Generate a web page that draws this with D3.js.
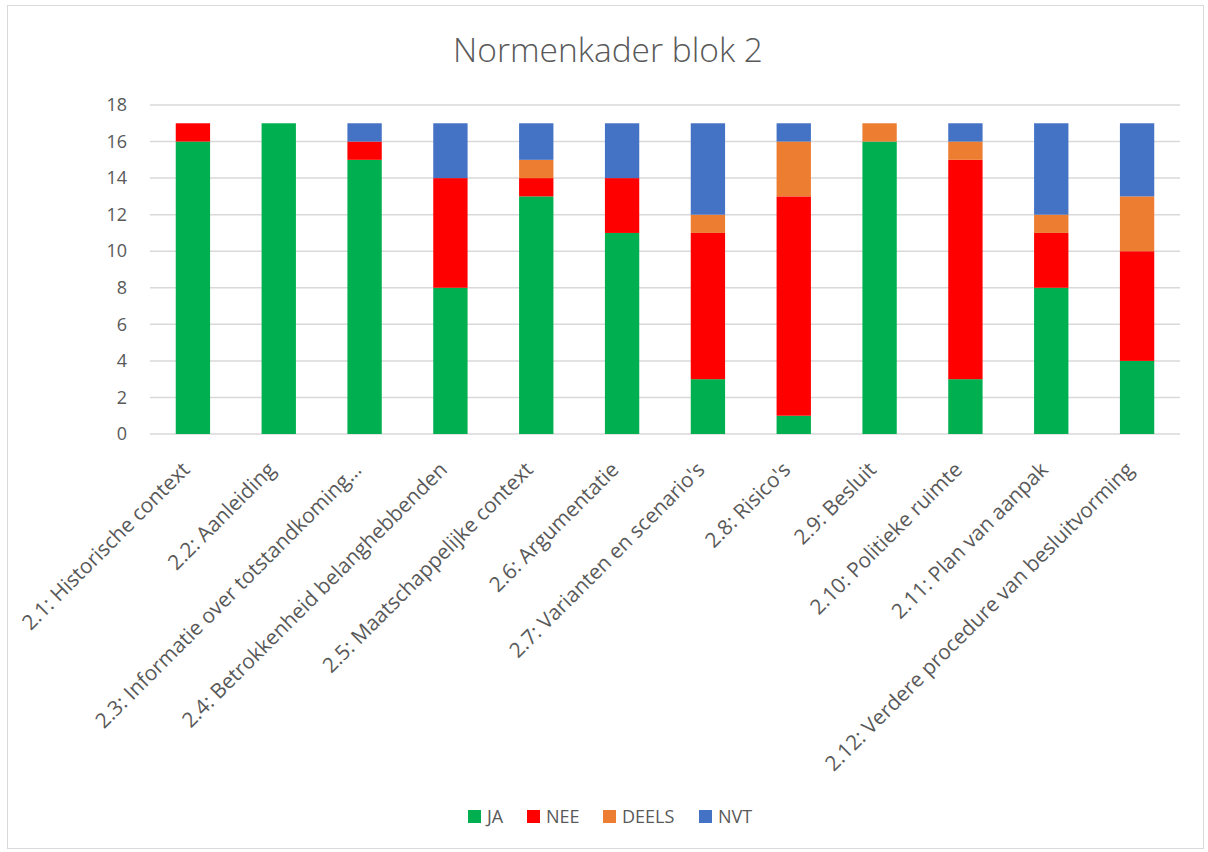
<html>
<head>
<script src="https://cdnjs.cloudflare.com/ajax/libs/d3/7.8.5/d3.min.js"></script>
<style>
  body { margin: 0; background: #fff; }
  text { font-family: "Open Sans", sans-serif; fill: #595959; }
  .yaxis .domain, .xaxis .domain, .xaxis .tick line, .yaxis .tick line { display: none; }
  .grid line { stroke: #d9d9d9; stroke-width: 1.5; }
</style>
</head>
<body>
<div id="chart"></div>
<script>
let categories = ["2.1: Historische context", "2.2: Aanleiding", "2.3: Informatie over totstandkoming\u2026",
  "2.4: Betrokkenheid belanghebbenden", "2.5: Maatschappelijke context", "2.6: Argumentatie",
  "2.7: Varianten en scenario's", "2.8: Risico's", "2.9: Besluit", "2.10: Politieke ruimte",
  "2.11: Plan van aanpak", "2.12: Verdere procedure van besluitvorming"];
let seriesNames = ["JA", "NEE", "DEELS", "NVT"];
let colours = ["#00b050", "#ff0000", "#ed7d31", "#4472c4"];
let ja    = [16, 17, 15, 8, 13, 11, 3, 1, 16, 3, 8, 4];
let nee   = [1, 0, 1, 6, 1, 3, 8, 12, 0, 12, 3, 6];
let deels = [0, 0, 0, 0, 1, 0, 1, 3, 1, 1, 1, 3];
let nvt   = [0, 0, 1, 3, 2, 3, 5, 1, 0, 1, 5, 4];
let yTicks = [0, 2, 4, 6, 8, 10, 12, 14, 16, 18];

let W = 1208, H = 852;
let margin = {top: 105, left: 150, right: 28, bottom: 418};
let width = W - margin.left - margin.right;
let height = H - margin.top - margin.bottom;

let svg = d3.select('#chart').append('svg').attr('width', W).attr('height', H);

svg.append('rect')
  .attr('x', 7.5).attr('y', 5.5).attr('width', W - 12).attr('height', H - 9)
  .attr('fill', '#fff').attr('stroke', '#d9d9d9').attr('stroke-width', 1);

svg.append('text')
  .attr('x', 608).attr('y', 62)
  .attr('text-anchor', 'middle')
  .style('font-size', '33.5px').style('font-weight', 300)
  .text('Normenkader blok 2');

let g = svg.append('g').attr('transform', 'translate(' + margin.left + ',' + margin.top + ')');

let x = d3.scaleBand().domain(categories).range([0, width]).paddingInner(0.6).paddingOuter(0.3);
let y = d3.scaleLinear().domain([0, 18]).range([height, 0]);

g.append('g').attr('class', 'grid')
  .selectAll('line').data(yTicks).enter().append('line')
  .attr('x1', 0).attr('x2', width)
  .attr('y1', d => y(d)).attr('y2', d => y(d));

let yAxis = g.append('g').attr('class', 'yaxis')
  .call(d3.axisLeft(y).tickValues(yTicks).tickSize(0).tickPadding(23));
yAxis.selectAll('text').style('font-size', '18px').style('fill', '#595959').style('font-family', '"Open Sans", sans-serif');

let table = categories.map((c, i) => ({cat: c, JA: ja[i], NEE: nee[i], DEELS: deels[i], NVT: nvt[i]}));
let stacked = d3.stack().keys(seriesNames)(table);

g.selectAll('.series').data(stacked).enter().append('g')
  .attr('class', 'series')
  .attr('fill', (d, i) => colours[i])
  .selectAll('rect').data(d => d).enter().append('rect')
  .attr('x', d => x(d.data.cat))
  .attr('width', x.bandwidth())
  .attr('y', d => y(d[1]))
  .attr('height', d => y(d[0]) - y(d[1]));

let xAxis = g.append('g').attr('class', 'xaxis')
  .attr('transform', 'translate(0,' + height + ')')
  .call(d3.axisBottom(x).tickSize(0).tickPadding(0));
xAxis.selectAll('text')
  .style('font-size', '20.8px').style('fill', '#595959').style('font-family', '"Open Sans", sans-serif')
  .attr('text-anchor', 'end')
  .attr('dy', 0)
  .attr('transform', 'translate(-2,37) rotate(-45)');

let legend = svg.append('g').attr('transform', 'translate(0,816)');
let legendX = [468, 527, 603, 699];
seriesNames.forEach((s, i) => {
  legend.append('rect').attr('x', legendX[i]).attr('y', -6).attr('width', 13).attr('height', 13).attr('fill', colours[i]);
  legend.append('text').attr('x', legendX[i] + 19).attr('y', 7).style('font-size', '18px').text(s);
});
</script>
</body>
</html>
